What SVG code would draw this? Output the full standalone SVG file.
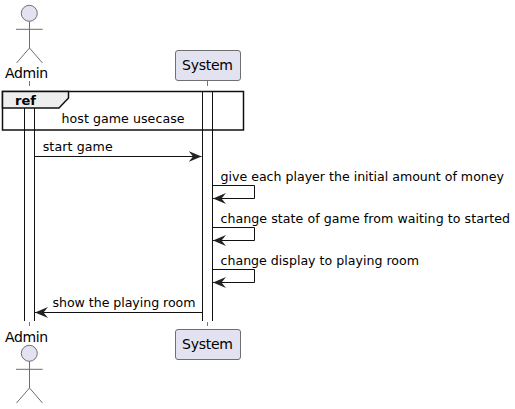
<svg xmlns="http://www.w3.org/2000/svg" width="515" height="409" viewBox="0 0 515 409">
<style>
text{font-family:"DejaVu Sans",sans-serif;fill:#000}
.m{font-size:12.600px}
.p{font-size:14px}
.a{fill:#E2E2F0;stroke:#6f6f6f;stroke-width:1}
.s{fill:none;stroke:#6f6f6f;stroke-width:1}
.b{fill:#E2E2F0;stroke:#6f6f6f;stroke-width:1}
.l{stroke:#777;stroke-width:1;fill:none}
.bar{fill:none;stroke:#111;stroke-width:1}
.c{fill:none;stroke:#111;stroke-width:1}
.h{fill:#222;stroke:none}
</style>
<defs>
<g id="actor"><circle class="a" cx="29.300" cy="13.300" r="8"/><path class="s" d="M29.500 21.300V48M16 29.300H42.700M29.500 48L16.500 63M29.500 48L42.500 63"/></g>
<marker id="ah" markerUnits="userSpaceOnUse" markerWidth="14" markerHeight="12" refX="13" refY="6" orient="auto"><path class="h" d="M0 .5L13 6L0 11.500L4.500 6Z"/></marker>
</defs>
<g id="lifelines">
<path class="l" d="M29.500 81V86M29.500 322V326M207.500 81V86M207.500 322V326"/>
</g>
<g id="activations">
<path class="bar" d="M24.500 108V321M34.500 108V321M202.500 91V321M212.500 91V321"/>
</g>
<g id="ref">
<rect x="2.500" y="91.500" width="241" height="38.500" fill="none" stroke="#111" stroke-width="1.500"/>
<path d="M2.500 91.500H68.500V98L59 108H2.500Z" fill="#EEEEEE" stroke="#111" stroke-width="1.500"/>
<text x="15" y="105" style="font-size:13px;font-weight:700" textLength="21">ref</text>
<text class="m" x="61.500" y="123" textLength="123">host game usecase</text>
</g>
<g id="admin-top"><use href="#actor"/><text class="p" x="5" y="78" textLength="43">Admin</text></g>
<g id="system-top"><rect class="b" x="175.500" y="50.500" width="65" height="30" rx="2.500"/><text class="p" x="182" y="70" textLength="51">System</text></g>
<g id="admin-bottom"><use href="#actor" y="340"/><text class="p" x="5" y="342" textLength="43">Admin</text></g>
<g id="system-bottom"><rect class="b" x="175.500" y="329.500" width="65" height="30" rx="2.500"/><text class="p" x="182" y="349" textLength="51">System</text></g>
<g id="connectors">
<path class="c" d="M35 156.500H201.500" marker-end="url(#ah)"/>
<text class="m" x="42.700" y="151" textLength="70">start game</text>
<path class="c" d="M213 185.500H254.500V198.500H213" marker-end="url(#ah)"/>
<text class="m" x="220.500" y="181" textLength="283.500">give each player the initial amount of money</text>
<path class="c" d="M213 227.500H254.500V240.500H213" marker-end="url(#ah)"/>
<text class="m" x="220.500" y="223" textLength="289.500">change state of game from waiting to started</text>
<path class="c" d="M213 269.500H254.500V282.500H213" marker-end="url(#ah)"/>
<text class="m" x="220.500" y="265" textLength="198.500">change display to playing room</text>
<path class="c" d="M202 312.500H35" marker-end="url(#ah)"/>
<text class="m" x="52.500" y="307" textLength="143">show the playing room</text>
</g>
</svg>
